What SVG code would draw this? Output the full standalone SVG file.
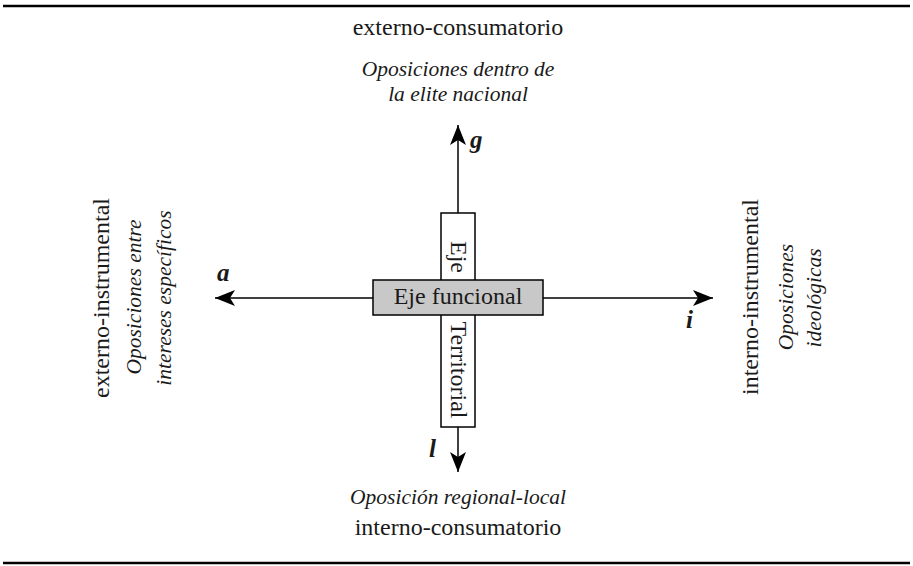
<svg xmlns="http://www.w3.org/2000/svg" width="913" height="566" viewBox="0 0 913 566">
<style>
text{font-family:"Liberation Serif","DejaVu Serif",serif;font-size:24px;fill:#1a1a1a}
.it{font-style:italic;font-size:21.5px}
.lbl{font-style:italic;font-weight:bold;font-size:25px}
.ln{stroke:#000;stroke-width:1.5;fill:none}
.box{stroke:#000;stroke-width:1.5}
</style>
<defs>
<marker id="ah" markerUnits="userSpaceOnUse" markerWidth="24" markerHeight="16" refX="20" refY="8" orient="auto">
<path d="M20,8 L0,0 L5,8 L0,16 Z" fill="#000"/>
</marker>
</defs>
<line x1="3" y1="6" x2="910" y2="6" stroke="#000" stroke-width="2.5"/>
<line x1="3" y1="563" x2="910" y2="563" stroke="#000" stroke-width="2.5"/>
<g id="connectors">
<line class="ln" x1="458" y1="213" x2="458" y2="125" marker-end="url(#ah)"/>
<line class="ln" x1="458" y1="427" x2="458" y2="472" marker-end="url(#ah)"/>
<line class="ln" x1="373" y1="298" x2="215" y2="298" marker-end="url(#ah)"/>
<line class="ln" x1="543" y1="298" x2="713" y2="298" marker-end="url(#ah)"/>
</g>
<g id="labels">
<text class="lbl" x="470" y="148">g</text>
<text class="lbl" x="217" y="281">a</text>
<text class="lbl" x="686" y="328">i</text>
<text class="lbl" x="429" y="457">l</text>
</g>
<g id="top">
<text x="458" y="35" text-anchor="middle">externo-consumatorio</text>
<text class="it" x="458" y="76" text-anchor="middle">Oposiciones dentro de</text>
<text class="it" x="458" y="101" text-anchor="middle">la elite nacional</text>
</g>
<g id="bottom">
<text class="it" x="458" y="504" text-anchor="middle">Oposición regional-local</text>
<text x="458" y="535" text-anchor="middle">interno-consumatorio</text>
</g>
<g id="left">
<text x="109" y="298" text-anchor="middle" transform="rotate(-90 109 298)">externo-instrumental</text>
<text class="it" x="141" y="297" text-anchor="middle" transform="rotate(-90 141 297)">Oposiciones entre</text>
<text class="it" x="171" y="298" text-anchor="middle" transform="rotate(-90 171 298)">intereses específicos</text>
</g>
<g id="right">
<text x="758" y="297" text-anchor="middle" transform="rotate(-90 758 297)">interno-instrumental</text>
<text class="it" x="793" y="297" text-anchor="middle" transform="rotate(-90 793 297)">Oposiciones</text>
<text class="it" x="821" y="298" text-anchor="middle" transform="rotate(-90 821 298)">ideológicas</text>
</g>
<g id="eje-territorial">
<rect class="box" x="441" y="213" width="34" height="214" fill="#fff"/>
<text x="451" y="257" text-anchor="middle" transform="rotate(90 451 257)">Eje</text>
<text x="451" y="370" text-anchor="middle" transform="rotate(90 451 370)">Territorial</text>
</g>
<g id="eje-funcional">
<rect class="box" x="373" y="280" width="170" height="35" fill="#c8c8c8"/>
<text x="458" y="304" text-anchor="middle">Eje funcional</text>
</g>
</svg>
